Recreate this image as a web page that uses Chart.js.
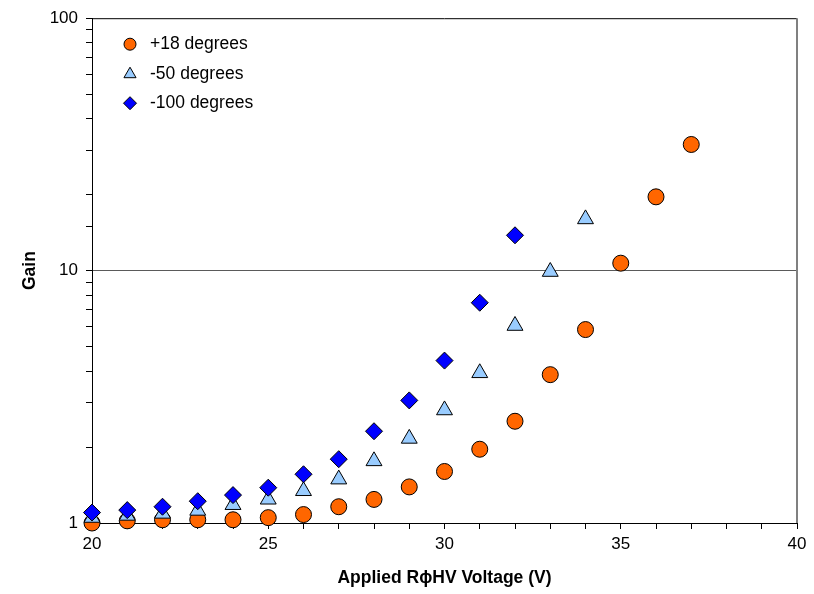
<!DOCTYPE html>
<html>
<head>
<meta charset="utf-8">
<script src="https://cdn.jsdelivr.net/npm/chart.js@4.4.1/dist/chart.umd.min.js"></script>
<style>
  html, body { margin: 0; padding: 0; background: #fff; }
  #c { display: block; }
</style>
</head>
<body>
<canvas id="c" width="814" height="594"></canvas>
<script>
// ---- data ----
const seriesNames = ['+18 degrees', '-50 degrees', '-100 degrees'];
const voltage18  = [20,21,22,23,24,25,26,27,28,29,30,31,32,33,34,35,36,37];
const gain18     = [1.00,1.02,1.03,1.03,1.03,1.05,1.08,1.16,1.24,1.39,1.60,1.96,2.53,3.87,5.84,10.7,19.6,31.6];
const voltage50  = [20,21,22,23,24,25,26,27,28,29,30,31,32,33,34];
const gain50     = [1.05,1.07,1.09,1.12,1.18,1.24,1.34,1.49,1.76,2.16,2.80,3.93,6.05,9.9,16.0];
const voltage100 = [20,21,22,23,24,25,26,27,28,29,30,31,32];
const gain100    = [1.10,1.125,1.16,1.22,1.29,1.38,1.56,1.79,2.31,3.06,4.40,7.46,13.8];
const xTickLabels = [20,25,30,35,40];
const yTickLabels = [1,10,100];

const FONT = '"Liberation Sans", Arial, sans-serif';

function pts(xs, ys) { return xs.map((x, i) => ({ x: x, y: ys[i] })); }

const styles = [
  { pointStyle: 'circle',   radius: 8,   bg: '#FF6600', legendRadius: 6 },
  { pointStyle: 'triangle', radius: 9.2, bg: '#99CCFF', legendRadius: 7 },
  { pointStyle: 'rectRot',  radius: 8.5, bg: '#0000FF', legendRadius: 6.5 }
];
const allData = [pts(voltage18, gain18), pts(voltage50, gain50), pts(voltage100, gain100)];

const datasets = allData.map((d, i) => ({
  label: seriesNames[i],
  data: d,
  pointStyle: styles[i].pointStyle,
  pointRadius: styles[i].radius,
  pointBackgroundColor: styles[i].bg,
  pointBorderColor: '#000000',
  pointBorderWidth: 1,
  showLine: false,
  clip: false,
  order: 3 - i
}));

const framePlugin = {
  id: 'frame',
  beforeDatasetsDraw(chart) {
    const a = chart.chartArea, ctx = chart.ctx;
    ctx.save();
    ctx.lineWidth = 1;
    ctx.strokeStyle = '#000000';
    ctx.beginPath();
    ctx.moveTo(a.left, a.top + 0.5);
    ctx.lineTo(a.right, a.top + 0.5);
    ctx.stroke();
    ctx.strokeStyle = '#808080';
    ctx.lineWidth = 2;
    ctx.beginPath();
    ctx.moveTo(a.right, a.top);
    ctx.lineTo(a.right, a.bottom);
    ctx.stroke();
    ctx.restore();
  }
};

const legendPlugin = {
  id: 'insideLegend',
  afterDraw(chart) {
    const ctx = chart.ctx;
    const a = chart.chartArea;
    const mx = a.left + 38, tx = a.left + 58;
    const rows = [a.top + 26, a.top + 56, a.top + 85];
    ctx.save();
    ctx.font = '17.5px ' + FONT;
    ctx.textBaseline = 'middle';
    ctx.textAlign = 'left';
    seriesNames.forEach((name, i) => {
      ctx.fillStyle = styles[i].bg;
      ctx.strokeStyle = '#000000';
      ctx.lineWidth = 1;
      Chart.helpers.drawPoint(ctx, {
        pointStyle: styles[i].pointStyle,
        radius: styles[i].legendRadius,
        rotation: 0,
        borderWidth: 1
      }, mx, rows[i]);
      ctx.fillStyle = '#000000';
      ctx.fillText(name, tx, rows[i]);
    });
    ctx.restore();
  }
};

new Chart(document.getElementById('c'), {
  type: 'scatter',
  data: { datasets: datasets },
  options: {
    responsive: false,
    animation: false,
    events: [],
    devicePixelRatio: 1,
    layout: { padding: { top: 16, right: 17, left: 0, bottom: 0 } },
    plugins: {
      legend: { display: false },
      tooltip: { enabled: false }
    },
    scales: {
      x: {
        type: 'linear',
        min: 20, max: 40,
        afterFit(scale) { scale.height = 71; },
        border: { display: true, color: '#000000', width: 1 },
        grid: { drawOnChartArea: false, drawTicks: true, tickLength: 6, tickColor: '#000000' },
        ticks: {
          stepSize: 1, autoSkip: false, maxRotation: 0, padding: 5,
          color: '#000000',
          font: { family: FONT, size: 17 },
          callback: (v) => xTickLabels.includes(v) ? String(v) : ''
        },
        title: {
          display: true,
          text: 'Applied R\u03D5HV Voltage (V)',
          color: '#000000',
          font: { family: FONT, size: 17.5, weight: 'bold' },
          padding: { top: 0, bottom: 5 }
        }
      },
      y: {
        type: 'logarithmic',
        min: 1, max: 100,
        afterFit(scale) { scale.width = 92; },
        border: { display: true, color: '#000000', width: 1 },
        grid: {
          drawOnChartArea: true, drawTicks: true, tickLength: 6, tickColor: '#000000',
          color: (c) => (c.tick && c.tick.value === 10) ? '#5a5a5a' : 'rgba(0,0,0,0)',
          lineWidth: 1
        },
        ticks: {
          autoSkip: false, padding: 8,
          color: '#000000',
          font: { family: FONT, size: 17 },
          callback: (v) => yTickLabels.includes(v) ? String(v) : ''
        },
        title: {
          display: true,
          text: 'Gain',
          color: '#000000',
          font: { family: FONT, size: 17.5, weight: 'bold' },
          padding: { top: 20, bottom: 0 }
        }
      }
    }
  },
  plugins: [framePlugin, legendPlugin]
});
</script>
</body>
</html>
